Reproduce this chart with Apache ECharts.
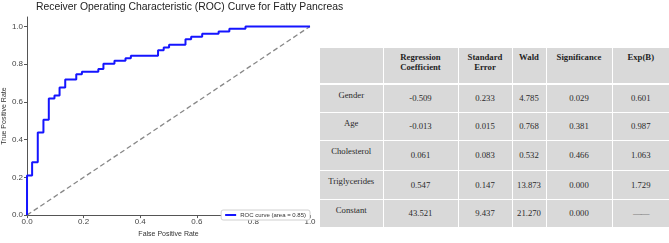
<!DOCTYPE html>
<html>
<head>
<meta charset="utf-8">
<script src="https://cdn.jsdelivr.net/npm/echarts@6/dist/echarts.min.js"></script>
<style>
    html, body {
        margin: 0;
        padding: 0;
        background: #fff;
    }
    .wrap {
        position: relative;
        width: 669px;
        height: 243px;
    }
    #rocChart {
        position: absolute;
        left: 0;
        top: 0;
        width: 669px;
        height: 243px;
    }
    #statTable {
        position: absolute;
        left: 320px;
        top: 48px;
        width: 349px;
        border-collapse: collapse;
        table-layout: fixed;
        background: #d9d9d9;
        font-family: 'Liberation Serif', 'Times New Roman', serif;
        font-size: 8.7px;
        color: #2a2a2a;
    }
    #statTable td, #statTable th {
        border-left: 1px solid #fff;
        border-top: 1px solid #fff;
        padding: 0;
        text-align: center;
        vertical-align: middle;
        line-height: 10px;
    }
    #statTable tr td:first-child, #statTable tr th:first-child {
        border-left: none;
    }
    #statTable thead th {
        border-top: none;
        vertical-align: top;
        padding-top: 4px;
        font-weight: bold;
        color: #1e1e1e;
    }
    #statTable tbody tr:first-child td {
        border-top: 2px solid #fff;
    }
    #statTable td.rowName {
        vertical-align: top;
        padding-top: 5px;
    }
    #statTable .dash {
        color: #808080;
        letter-spacing: -1px;
    }
</style>
</head>
<body>
<div class="wrap">
    <div id="rocChart"></div>
    <table id="statTable"></table>
</div>
<script>
// ROC 曲线的点 (阶梯)
const fpr = [0, 0, 0.018, 0.038, 0.058, 0.077, 0.097, 0.115, 0.135, 0.174, 0.194, 0.252, 0.270, 0.309, 0.348, 0.367, 0.463, 0.483, 0.502, 0.560, 0.580, 0.619, 0.677, 0.715, 0.772, 1.0];
const tpr = [0, 0.21, 0.28, 0.438, 0.506, 0.618, 0.634, 0.676, 0.719, 0.746, 0.760, 0.775, 0.802, 0.818, 0.831, 0.845, 0.874, 0.889, 0.903, 0.932, 0.945, 0.961, 0.973, 0.988, 1.0, 1.0];
const chanceX = [0, 1];
const chanceY = [0, 1];
const tickValues = [0, 0.2, 0.4, 0.6, 0.8, 1.0];

// 回归表
const headers = ['', 'Regression<br>Coefficient', 'Standard<br>Error', 'Wald', 'Significance', 'Exp(B)'];
const colWidths = [63, 75, 54, 34, 66, 57];
const rowNames = ['Gender', 'Age', 'Cholesterol', 'Triglycerides', 'Constant'];
const rowHeights = [28, 28, 30, 29, 28];
const coef = ['-0.509', '-0.013', '0.061', '0.547', '43.521'];
const stdErr = ['0.233', '0.015', '0.083', '0.147', '9.437'];
const wald = ['4.785', '0.768', '0.532', '13.873', '21.270'];
const sig = ['0.029', '0.381', '0.466', '0.000', '0.000'];
const expB = ['0.601', '0.987', '1.063', '1.729', null];

function buildTable() {
    let html = '<colgroup>' + colWidths.map(w => '<col style="width:' + w + 'px">').join('') + '</colgroup>';
    html += '<thead><tr style="height:36px">' + headers.map(h => '<th>' + h + '</th>').join('') + '</tr></thead><tbody>';
    rowNames.forEach((name, i) => {
        const e = expB[i] === null ? '<span class="dash">——</span>' : expB[i];
        html += '<tr style="height:' + rowHeights[i] + 'px"><td class="rowName">' + name + '</td>' +
            '<td>' + coef[i] + '</td><td>' + stdErr[i] + '</td><td>' + wald[i] + '</td>' +
            '<td>' + sig[i] + '</td><td>' + e + '</td></tr>';
    });
    html += '</tbody>';
    document.getElementById('statTable').innerHTML = html;
}

const renderChart = () => {
    const font = 'Liberation Sans, Arial, sans-serif',
        option = {
            animation: false,
            title: {
                text: 'Receiver Operating Characteristic (ROC) Curve for Fatty Pancreas',
                left: 31,
                top: -3,
                textStyle: {
                    fontFamily: font,
                    fontSize: 10.4,
                    fontWeight: 'normal',
                    color: '#222',
                },
            },
            legend: {
                data: ['ROC curve (area = 0.85)'],
                right: 359,
                bottom: 23,
                icon: 'rect',
                itemWidth: 11,
                itemHeight: 2,
                itemGap: 4,
                padding: [2, 4, 2, 4],
                backgroundColor: '#fff',
                borderColor: '#d0d0d0',
                borderWidth: 1,
                borderRadius: 2,
                textStyle: {
                    fontFamily: font,
                    fontSize: 6,
                    color: '#333',
                    padding: [0, 0, 0, -1],
                },
            },
            grid: {
                left: 21,
                right: 359,
                top: 17,
                bottom: 20,
                containLabel: false,
            },
            xAxis: {
                type: 'value',
                min: 0,
                max: 1,
                interval: 0.2,
                name: 'False Positive Rate',
                nameLocation: 'middle',
                nameGap: 12,
                nameTextStyle: {
                    fontFamily: font,
                    fontSize: 7,
                    color: '#333',
                },
                axisLine: {
                    lineStyle: {
                        color: '#555',
                        width: 1,
                    },
                },
                axisTick: {
                    show: true,
                    length: 3,
                    lineStyle: { color: '#555' },
                },
                axisLabel: {
                    margin: 3,
                    fontFamily: font,
                    fontSize: 8,
                    color: '#444',
                    formatter: v => v.toFixed(1),
                },
                splitLine: { show: false },
            },
            yAxis: {
                type: 'value',
                min: 0,
                max: 1.05,
                name: 'True Positive Rate',
                nameLocation: 'middle',
                nameGap: 15,
                nameRotate: 90,
                nameTextStyle: {
                    fontFamily: font,
                    fontSize: 7,
                    color: '#333',
                },
                axisLine: {
                    show: true,
                    lineStyle: {
                        color: '#555',
                        width: 1,
                    },
                },
                axisTick: {
                    show: true,
                    length: 3,
                    customValues: tickValues,
                    lineStyle: { color: '#555' },
                },
                axisLabel: {
                    margin: 4,
                    fontFamily: font,
                    fontSize: 8,
                    color: '#444',
                    customValues: tickValues,
                    formatter: v => v.toFixed(1),
                },
                splitLine: { show: false },
            },
            series: [
                {
                    name: 'chance',
                    type: 'line',
                    data: chanceX.map((x, i) => [x, chanceY[i]]),
                    symbol: 'none',
                    silent: true,
                    lineStyle: {
                        color: '#888',
                        width: 1.3,
                        type: [5, 3],
                    },
                    z: 1,
                },
                {
                    name: 'ROC curve (area = 0.85)',
                    type: 'line',
                    step: 'end',
                    data: fpr.map((x, i) => [x, tpr[i]]),
                    symbol: 'none',
                    itemStyle: { color: '#1515ff' },
                    lineStyle: {
                        color: '#1515ff',
                        width: 2,
                    },
                    z: 3,
                },
            ],
        };
    // 绘制图表
    let myChart = echarts.init(document.getElementById('rocChart'));
    myChart.clear();
    myChart.setOption(option);
};

buildTable();
renderChart();
</script>
</body>
</html>
